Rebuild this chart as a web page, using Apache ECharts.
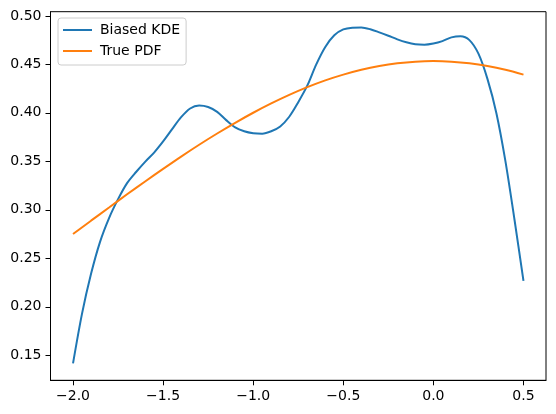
<!DOCTYPE html>
<html>
<head>
<meta charset="utf-8">
<script src="https://cdn.jsdelivr.net/npm/echarts@6/dist/echarts.min.js"></script>
<style>
  html, body { margin: 0; padding: 0; background: #fff; }
  #main { width: 556px; height: 414px; }
</style>
</head>
<body>
<div id="main"></div>
<script>
// x positions for the KDE curve
var kdeX = [-2.00, -1.95, -1.90, -1.85, -1.80, -1.75, -1.70, -1.65, -1.60, -1.55,
            -1.50, -1.45, -1.40, -1.35, -1.30, -1.25, -1.20, -1.15, -1.10, -1.05,
            -1.00, -0.95, -0.90, -0.85, -0.80, -0.75, -0.70, -0.65, -0.60, -0.55,
            -0.50, -0.45, -0.40, -0.35, -0.30, -0.25, -0.20, -0.15, -0.10, -0.05,
             0.00,  0.05,  0.10,  0.15,  0.20,  0.25,  0.30,  0.35,  0.40,  0.45, 0.50];
var kdeY = [0.1417, 0.193, 0.234, 0.267, 0.2915, 0.311, 0.3275, 0.339, 0.3495, 0.359,
            0.3705, 0.3832, 0.3955, 0.4045, 0.4075, 0.406, 0.401, 0.3925, 0.385, 0.381,
            0.379, 0.3785, 0.381, 0.386, 0.396, 0.411, 0.428, 0.450, 0.468, 0.480,
            0.486, 0.4878, 0.488, 0.4862, 0.483, 0.4795, 0.4758, 0.4728, 0.4708, 0.4703,
            0.4715, 0.474, 0.4778, 0.479, 0.475, 0.461, 0.435, 0.3994, 0.350, 0.290, 0.2268];

// x positions for the true pdf
var pdfX = [-2.0, -1.9, -1.8, -1.7, -1.6, -1.5, -1.4, -1.3, -1.2, -1.1, -1.0, -0.9, -0.8,
            -0.7, -0.6, -0.5, -0.4, -0.3, -0.2, -0.1, 0.0, 0.1, 0.2, 0.3, 0.4, 0.5];
var pdfY = [0.2750, 0.2888, 0.3024, 0.3160, 0.3292, 0.3422, 0.3549, 0.3671, 0.3787,
            0.3897, 0.4001, 0.4097, 0.4185, 0.4265, 0.4335, 0.4394, 0.4444, 0.4483,
            0.4511, 0.4528, 0.4534, 0.4528, 0.4511, 0.4483, 0.4444, 0.4394];

var xTicks = [-2.0, -1.5, -1.0, -0.5, 0.0, 0.5];
var yTicks = [0.15, 0.20, 0.25, 0.30, 0.35, 0.40, 0.45, 0.50];

var FONT = 'DejaVu Sans';

function pairs(xs, ys) {
    return xs.map(function (x, i) { return [x, ys[i]]; });
}
function minus(s) { return s.replace('-', '\u2212'); }

var myChart = echarts.init(document.getElementById('main'));
myChart.setOption({
    animation: false,
    textStyle: { fontFamily: FONT },
    grid: {
        left: 50.5, right: 10, top: 11.7, bottom: 33.7,
        show: true, borderColor: '#000', borderWidth: 1, backgroundColor: 'transparent'
    },
    legend: {
        orient: 'vertical',
        left: 58, top: 18,
        padding: [5, 6, 7, 5],
        itemWidth: 29, itemHeight: 2, itemGap: 7,
        icon: 'rect',
        borderColor: '#cccccc', borderWidth: 1, borderRadius: 3,
        backgroundColor: 'rgba(255,255,255,0.8)',
        textStyle: { fontFamily: FONT, fontSize: 14, color: '#000', padding: [0, 0, 0, 3], lineHeight: 14 },
        data: ['Biased KDE', 'True PDF']
    },
    xAxis: {
        type: 'value',
        min: -2.125, max: 0.625,
        splitLine: { show: false },
        axisLine: { onZero: false, lineStyle: { color: '#000', width: 1 } },
        axisTick: { show: true, inside: false, length: 5, lineStyle: { color: '#000' }, customValues: xTicks },
        axisLabel: {
            fontFamily: FONT, color: '#000', fontSize: 14, margin: 9,
            customValues: xTicks,
            formatter: function (v) { return minus(v.toFixed(1)); }
        }
    },
    yAxis: {
        type: 'value',
        min: 0.1242, max: 0.5043,
        splitLine: { show: false },
        axisLine: { show: true, onZero: false, lineStyle: { color: '#000', width: 1 } },
        axisTick: { show: true, inside: false, length: 5, lineStyle: { color: '#000' }, customValues: yTicks },
        axisLabel: {
            fontFamily: FONT, color: '#000', fontSize: 14, margin: 9,
            customValues: yTicks,
            formatter: function (v) { return v.toFixed(2); }
        }
    },
    series: [{
        name: 'Biased KDE',
        type: 'line',
        data: pairs(kdeX, kdeY),
        showSymbol: false, symbol: 'none',
        smooth: 0.3,
        color: '#1f77b4',
        lineStyle: { width: 2, color: '#1f77b4' }
    }, {
        name: 'True PDF',
        type: 'line',
        data: pairs(pdfX, pdfY),
        showSymbol: false, symbol: 'none',
        smooth: 0.3,
        color: '#ff7f0e',
        lineStyle: { width: 2, color: '#ff7f0e' }
    }]
});
</script>
</body>
</html>
